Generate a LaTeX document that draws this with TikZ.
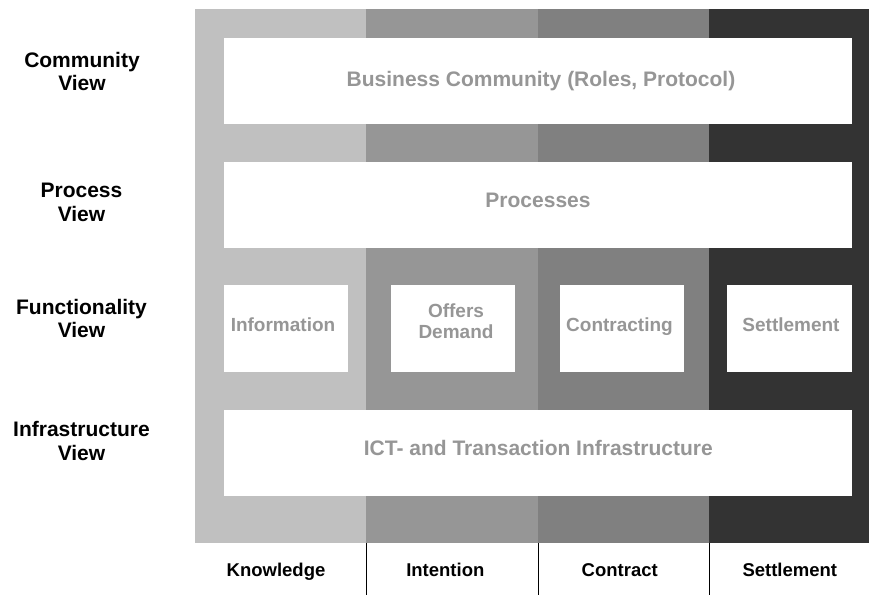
\documentclass[tikz,border=0pt]{standalone}
\usepackage{fontspec}
\setmainfont{Liberation Sans}
\definecolor{bandA}{HTML}{C0C0C0}
\definecolor{bandB}{HTML}{969696}
\definecolor{bandC}{HTML}{808080}
\definecolor{bandD}{HTML}{333333}
\definecolor{boxtext}{HTML}{969696}
\begin{document}
\begin{tikzpicture}[x=1pt,y=-1pt,
  band/.style={draw=none,inner sep=0pt,outer sep=0pt,anchor=north west},
  wbox/.style={fill=white,draw=none,inner sep=0pt,outer sep=0pt,anchor=north west},
  bigtxt/.style={font=\fontsize{21}{23}\selectfont\bfseries,text=boxtext,inner sep=0pt,anchor=base},
  smalltxt/.style={font=\fontsize{19}{20.7}\selectfont\bfseries,text=boxtext,inner sep=0pt,anchor=base,align=center},
  viewlbl/.style={font=\fontsize{21}{23.5}\selectfont\bfseries,align=center,text=black,inner sep=0pt,anchor=base},
  collbl/.style={font=\fontsize{18.5}{22}\selectfont\bfseries,text=black,inner sep=0pt,anchor=base},
  sep/.style={draw=black,line width=0.8pt}]
\useasboundingbox (0,0) rectangle (869,595);
\fill[white] (0,0) rectangle (869,595);
% bands
\node[band,fill=bandA,minimum width=171pt,minimum height=534pt] (bA) at (195,9) {};
\node[band,fill=bandB,minimum width=172pt,minimum height=534pt] (bB) at (366,9) {};
\node[band,fill=bandC,minimum width=171pt,minimum height=534pt] (bC) at (538,9) {};
\node[band,fill=bandD,minimum width=160pt,minimum height=534pt] (bD) at (709,9) {};
% white boxes
\node[wbox,minimum width=628pt,minimum height=86pt] (comm) at (224,38) {};
\node[bigtxt] (commT) at (541,86) {Business Community (Roles, Protocol)};
\node[wbox,minimum width=628pt,minimum height=86pt] (proc) at (224,162) {};
\node[bigtxt] (procT) at (538,207.7) {Processes};
\node[wbox,minimum width=124pt,minimum height=87pt] (info) at (224,285) {};
\node[smalltxt] (infoT) at (283,331.7) {Information};
\node[wbox,minimum width=124pt,minimum height=87pt] (offer) at (391,285) {};
\node[smalltxt] (offerT) at (456,338.3) {Offers\\Demand};
\node[wbox,minimum width=124pt,minimum height=87pt] (contr) at (560,285) {};
\node[smalltxt] (contrT) at (619.5,331.7) {Contracting};
\node[wbox,minimum width=125pt,minimum height=87pt] (settl) at (727,285) {};
\node[smalltxt] (settlT) at (791,331.7) {Settlement};
\node[wbox,minimum width=628pt,minimum height=86pt] (infra) at (224,410) {};
\node[bigtxt] (infraT) at (538.3,455) {ICT- and Transaction Infrastructure};
% left labels (anchor = baseline of last line)
\node[viewlbl] (lc) at (82,90.7) {Community\\View};
\node[viewlbl] (lp) at (81.5,221) {Process\\View};
\node[viewlbl] (lf) at (81.5,337.5) {Functionality\\View};
\node[viewlbl] (li) at (81.5,460) {Infrastructure\\View};
% bottom separators
\coordinate (s1) at (366,595);
\coordinate (s2) at (538,595);
\coordinate (s3) at (709,595);
\draw[sep] (bA.south east) -- (s1);
\draw[sep] (bB.south east) -- (s2);
\draw[sep] (bC.south east) -- (s3);
% bottom labels
\node[collbl] (ck) at (276,576.7) {Knowledge};
\node[collbl] (ci) at (445.3,576.7) {Intention};
\node[collbl] (cc) at (619.7,576.7) {Contract};
\node[collbl] (cs) at (789.8,576.7) {Settlement};
\end{tikzpicture}
\end{document}
